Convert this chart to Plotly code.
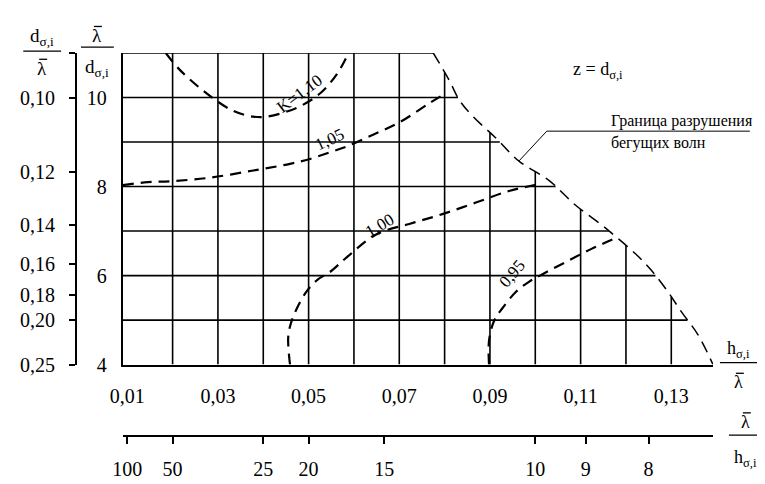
import numpy as np
import plotly.graph_objects as go

# ---- data ----
# breaking boundary of travelling waves: h/λ  vs  λ/d
boundary_x = [0.0775, 0.0810, 0.0832, 0.0861, 0.0913, 0.0964, 0.1030, 0.1089,
              0.1146, 0.1177, 0.1221, 0.1256, 0.1293, 0.1322, 0.1359, 0.1392]
boundary_y = [11.0, 10.39, 9.95, 9.59, 9.09, 8.57, 8.14, 7.58,
              7.14, 6.88, 6.49, 6.12, 5.63, 5.19, 4.67, 4.0]

k110_x = [0.0185, 0.0217, 0.0283, 0.0334, 0.0378, 0.0408, 0.0474, 0.0525, 0.0562, 0.0588]
k110_y = [11.0, 10.61, 10.03, 9.70, 9.57, 9.57, 9.77, 10.09, 10.52, 11.0]
k105_x = [0.0090, 0.0145, 0.0196, 0.0283, 0.0378, 0.0459, 0.0503, 0.0547, 0.0584,
          0.0641, 0.0700, 0.0766, 0.0795]
k105_y = [8.03, 8.10, 8.12, 8.20, 8.36, 8.51, 8.62, 8.77, 8.90, 9.16, 9.44, 9.87, 10.05]
k100_x = [0.0459, 0.0455, 0.0461, 0.0474, 0.0496, 0.0520, 0.0547, 0.0584, 0.0650,
          0.0722, 0.0795, 0.0869, 0.0942, 0.1008]
k100_y = [4.0, 4.61, 4.93, 5.26, 5.65, 5.91, 6.08, 6.41, 6.93, 7.16, 7.38, 7.64, 7.90, 8.05]
k095_x = [0.0898, 0.0898, 0.0909, 0.0927, 0.0957, 0.0986, 0.1014, 0.1074, 0.1124, 0.1177]
k095_y = [4.0, 4.54, 4.98, 5.26, 5.63, 5.86, 6.02, 6.34, 6.60, 6.84]

curve_labels = ["K=1,10", "1,05", "1,00", "0,95"]
label_x = [0.0481, 0.0547, 0.0657, 0.0949]
label_y = [10.08, 9.05, 7.12, 6.05]
label_angle = [-37, -25, -30, -50]

# grid / ticks
grid_x_vals = [0.02, 0.03, 0.04, 0.05, 0.06, 0.07, 0.08, 0.09, 0.10, 0.11, 0.12, 0.13]
grid_y_vals = [5, 6, 7, 8, 9, 10]
x_tick_vals = [0.01, 0.03, 0.05, 0.07, 0.09, 0.11, 0.13]
x_tick_text = ["0,01", "0,03", "0,05", "0,07", "0,09", "0,11", "0,13"]
y_tick_vals = [4, 6, 8, 10]
y_tick_text = ["4", "6", "8", "10"]
d_over_lam = [0.10, 0.12, 0.14, 0.16, 0.18, 0.20, 0.25]
d_over_lam_text = ["0,10", "0,12", "0,14", "0,16", "0,18", "0,20", "0,25"]
lam_over_h = [100, 50, 25, 20, 15, 10, 9, 8]
lam_over_h_text = ["100", "50", "25", "20", "15", "10", "9", "8"]

X_RANGE = [0.009012, 0.13920]
Y_RANGE = [4, 11]

FONT = "Liberation Serif"
W, H = 765, 484
ML, MR, MT, MB = 65, 60, 45, 42
PW, PH = W - ML - MR, H - MT - MB


def px(xp):
    return (xp - ML) / PW


def py(yp):
    return (H - MB - yp) / PH


fig = go.Figure()

# ---- grid clipped by the breaking boundary ----
gx, gy = [], []
for xv in grid_x_vals:
    top = min(11.0, float(np.interp(xv, boundary_x, boundary_y)))
    gx += [xv, xv, None]
    gy += [Y_RANGE[0], top, None]
for yv in grid_y_vals:
    right = float(np.interp(yv, boundary_y[::-1], boundary_x[::-1]))
    gx += [X_RANGE[0], right, None]
    gy += [yv, yv, None]
gx += [X_RANGE[0], boundary_x[0], None]
gy += [11.0, 11.0, None]
fig.add_trace(go.Scatter(x=gx, y=gy, mode="lines", line=dict(color="black", width=1.6),
                         hoverinfo="skip", showlegend=False, cliponaxis=False))

# boundary
fig.add_trace(go.Scatter(x=boundary_x, y=boundary_y, mode="lines",
                         line=dict(color="black", width=1.5, dash="12px,7px", shape="spline"),
                         showlegend=False, cliponaxis=False))

# K curves
for cx, cy, ax in [(k110_x, k110_y, "x"), (k105_x, k105_y, "x"),
                   (k100_x, k100_y, "x2"), (k095_x, k095_y, "x")]:
    fig.add_trace(go.Scatter(x=cx, y=cy, mode="lines", xaxis=ax,
                             line=dict(color="black", width=2.2, dash="11px,7px", shape="spline"),
                             showlegend=False, cliponaxis=False))
# trace anchoring the secondary left axis
fig.add_trace(go.Scatter(x=[X_RANGE[0]], y=[1 / d_over_lam[0]], yaxis="y2", mode="markers",
                         marker=dict(opacity=0), showlegend=False, hoverinfo="skip"))

# curve labels
for t, lx, ly, a in zip(curve_labels, label_x, label_y, label_angle):
    fig.add_annotation(x=lx, y=ly, text=t, textangle=a, showarrow=False,
                       xanchor="center", yanchor="middle",
                       font=dict(family=FONT, size=17, color="black"))


def text_at(t, cx, cy, size, xanchor="center"):
    fig.add_annotation(x=px(cx), y=py(cy), xref="paper", yref="paper", text=t,
                       showarrow=False, xanchor=xanchor, yanchor="middle",
                       font=dict(family=FONT, size=size, color="black"))


def hline(x0, x1, y, w=1.3):
    fig.add_shape(type="line", xref="paper", yref="paper", x0=px(x0), x1=px(x1),
                  y0=py(y), y1=py(y), line=dict(color="black", width=w))


# texts on the right
text_at("z = d<sub>σ,i</sub>", 562, 63, 18, "left")
text_at("Граница разрушения", 601, 115, 16, "left")
text_at("бегущих волн", 601, 138, 16, "left")
hline(538, 742, 126, 1)
fig.add_shape(type="line", xref="paper", yref="paper", x0=px(538), x1=px(510),
              y0=py(126), y1=py(157), line=dict(color="black", width=1))


def lam_bar(cx, cy, size):
    text_at("λ", cx, cy, size)
    hline(cx - 3, cx + 5, cy - 0.5 * size, 1.3)


def fraction(num, den, cx, y_num, y_line, y_den, x0, x1, size=19):
    for t, yy in ((num, y_num), (den, y_den)):
        if t == "lam":
            lam_bar(cx, yy, size)
        else:
            text_at(t, cx, yy, size)
    hline(x0, x1, y_line)


fraction("d<sub>σ,i</sub>", "lam", 31, 28, 43, 61, 12, 50)
fraction("lam", "d<sub>σ,i</sub>", 86, 27, 39, 61, 70, 103)
fraction("h<sub>σ,i</sub>", "lam", 731, 352, 366, 386, 712, 751, size=18)
fraction("lam", "h<sub>σ,i</sub>", 738, 427, 441, 465, 721, 757, size=18)

tickfont = dict(family=FONT, size=20, color="black")
y_dom0 = (H - MB - 368) / PH
x_dom0 = (112 - ML) / PW

fig.update_layout(
    width=W, height=H,
    margin=dict(l=ML, r=MR, t=MT, b=MB),
    plot_bgcolor="white", paper_bgcolor="white",
    showlegend=False,
    xaxis=dict(domain=[x_dom0, 1], range=X_RANGE, anchor="y", showgrid=False, zeroline=False,
               showline=True, linecolor="black", linewidth=2,
               tickmode="array", tickvals=x_tick_vals, ticktext=x_tick_text,
               ticks="", ticklabelstandoff=12, tickfont=tickfont),
    yaxis=dict(domain=[y_dom0, 1], range=Y_RANGE, anchor="x", showgrid=False, zeroline=False,
               showline=True, linecolor="black", linewidth=2,
               tickmode="array", tickvals=y_tick_vals, ticktext=y_tick_text,
               ticks="", ticklabelstandoff=10, tickfont=tickfont),
    xaxis2=dict(overlaying="x", anchor="free", position=0, range=X_RANGE,
                showgrid=False, zeroline=False, showline=True, linecolor="black", linewidth=2,
                tickmode="array", tickvals=[1 / v for v in lam_over_h], ticktext=lam_over_h_text,
                ticks="outside", ticklen=7, tickwidth=1.5, tickcolor="black",
                ticklabelstandoff=8, tickfont=tickfont),
    yaxis2=dict(overlaying="y", anchor="free", position=0, range=Y_RANGE, side="left",
                showgrid=False, zeroline=False, showline=True, linecolor="black", linewidth=2,
                tickmode="array", tickvals=[1 / v for v in d_over_lam] + [11],
                ticktext=d_over_lam_text + [" "],
                ticks="outside", ticklen=6, tickwidth=1.5, tickcolor="black",
                ticklabelstandoff=10, tickfont=tickfont),
)

fig.write_html("out.html")
